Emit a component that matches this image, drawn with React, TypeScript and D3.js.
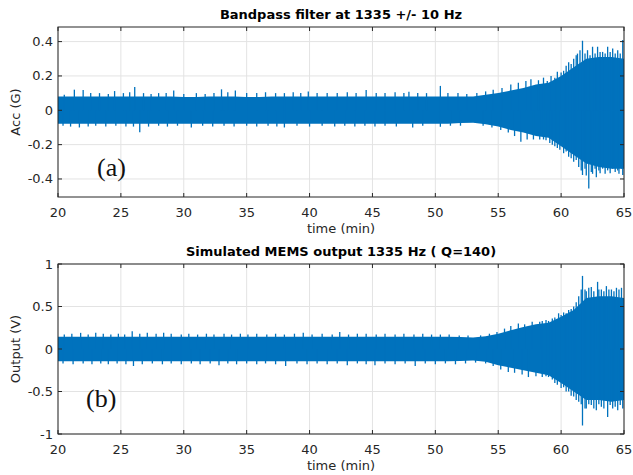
import React from "react";
import * as d3 from "d3";

// time grid for the dense core of the signal (minutes)
const coreTime = [
  20, 21, 22, 23, 24, 25, 26, 27, 28, 29, 30, 31, 32, 33, 34, 35, 36, 37, 38, 39, 40, 41, 42,
  43, 44, 45, 46, 47, 48, 49, 50, 51, 52, 53, 54, 55, 56, 57, 58, 59, 60, 61, 62, 63, 64, 65,
];

// (a) bandpass filtered acceleration, core envelope (G)
const coreUpperA = [
  0.08, 0.08, 0.08, 0.08, 0.08, 0.08, 0.08, 0.08, 0.08, 0.08, 0.078, 0.078, 0.08, 0.08, 0.08,
  0.078, 0.078, 0.08, 0.08, 0.08, 0.08, 0.08, 0.08, 0.08, 0.08, 0.08, 0.08, 0.08, 0.08, 0.08,
  0.08, 0.08, 0.08, 0.08, 0.09, 0.1, 0.115, 0.13, 0.15, 0.16, 0.2, 0.25, 0.3, 0.31, 0.31, 0.3,
];
const coreLowerA = [
  -0.078, -0.078, -0.078, -0.078, -0.078, -0.078, -0.078, -0.078, -0.078, -0.078, -0.078,
  -0.078, -0.078, -0.078, -0.078, -0.078, -0.078, -0.078, -0.078, -0.078, -0.078, -0.078,
  -0.078, -0.078, -0.078, -0.078, -0.078, -0.078, -0.078, -0.078, -0.078, -0.078, -0.074,
  -0.072, -0.082, -0.095, -0.115, -0.13, -0.15, -0.16, -0.21, -0.26, -0.31, -0.33, -0.34, -0.34,
];

// (a) individual peaks above / below the core
const peakUpTimeA = [
  20.5, 21.3, 22.0, 22.6, 23.3, 24.0, 24.5, 25.2, 25.7, 26.1, 26.8, 27.4, 28.0, 28.6, 29.2,
  30.0, 31.0, 31.7, 32.4, 33.0, 33.5, 34.1, 35.0, 35.8, 36.5, 37.3, 38.0, 38.7, 39.3, 39.9,
  40.6, 41.4, 42.2, 43.0, 43.7, 44.5, 45.3, 46.0, 46.8, 47.5, 47.9, 48.6, 49.3, 50.4, 51.0,
  51.8, 52.5, 53.3, 54.0, 54.6, 55.3, 56.0, 56.6, 57.2, 57.6, 58.2, 58.6, 58.9, 59.2, 59.5,
  59.7, 60.0, 60.2, 60.4, 60.6, 60.8, 61.0, 61.2, 61.3, 61.5, 61.7, 61.9, 62.1, 62.3, 62.5,
  62.7, 62.9, 63.1, 63.3, 63.5, 63.7, 63.9, 64.1, 64.3, 64.5, 64.7, 64.9,
];
const peakUpValA = [
  0.09, 0.12, 0.118, 0.1, 0.1, 0.095, 0.112, 0.1, 0.105, 0.135, 0.1, 0.095, 0.1, 0.1, 0.115,
  0.095, 0.1, 0.095, 0.1, 0.122, 0.105, 0.115, 0.1, 0.1, 0.105, 0.1, 0.1, 0.105, 0.1, 0.11,
  0.1, 0.1, 0.1, 0.105, 0.1, 0.118, 0.1, 0.1, 0.105, 0.1, 0.108, 0.1, 0.1, 0.142, 0.1, 0.1,
  0.095, 0.1, 0.11, 0.12, 0.13, 0.15, 0.16, 0.17, 0.18, 0.175, 0.19, 0.17, 0.2, 0.19, 0.225,
  0.22, 0.23, 0.26, 0.28, 0.27, 0.3, 0.32, 0.33, 0.35, 0.405, 0.33, 0.35, 0.32, 0.37, 0.33,
  0.37, 0.34, 0.34, 0.33, 0.37, 0.34, 0.36, 0.33, 0.35, 0.33, 0.41,
];
const peakDownTimeA = [
  20.4, 21.0, 21.7, 22.4, 23.0, 23.8, 24.6, 25.4, 26.0, 26.5, 27.2, 28.0, 28.7, 29.5, 30.6,
  31.5, 32.3, 33.2, 34.0, 35.0, 35.8, 36.7, 37.4, 38.0, 39.0, 40.0, 41.0, 42.0, 42.8, 43.6,
  44.4, 45.2, 46.0, 46.9, 48.2, 49.0, 50.4, 51.2, 52.0, 53.8, 54.5, 55.2, 55.8, 56.3, 56.8,
  57.3, 57.8, 58.3, 58.6, 58.8, 59.1, 59.3, 59.5, 59.7, 59.9, 60.2, 60.4, 60.6, 60.8, 61.0,
  61.2, 61.4, 61.6, 61.7, 61.9, 62.0, 62.2, 62.4, 62.5, 62.7, 62.8, 63.0, 63.1, 63.3, 63.5,
  63.7, 63.9, 64.1, 64.3, 64.5, 64.6, 64.8, 64.9,
];
const peakDownValA = [
  -0.09, -0.095, -0.1, -0.095, -0.09, -0.095, -0.09, -0.095, -0.095, -0.128, -0.095, -0.09,
  -0.095, -0.09, -0.1, -0.09, -0.095, -0.09, -0.095, -0.09, -0.095, -0.09, -0.095, -0.1,
  -0.09, -0.095, -0.09, -0.095, -0.09, -0.095, -0.09, -0.095, -0.09, -0.095, -0.1, -0.09,
  -0.096, -0.09, -0.09, -0.09, -0.1, -0.115, -0.13, -0.15, -0.183, -0.17, -0.17, -0.17,
  -0.17, -0.175, -0.19, -0.2, -0.21, -0.22, -0.23, -0.25, -0.24, -0.27, -0.28, -0.3, -0.29,
  -0.33, -0.35, -0.377, -0.34, -0.38, -0.455, -0.36, -0.37, -0.34, -0.39, -0.35, -0.367,
  -0.34, -0.37, -0.35, -0.367, -0.34, -0.36, -0.35, -0.37, -0.34, -0.377,
];

// (b) simulated MEMS output, core envelope (V)
const coreUpperB = [
  0.145, 0.145, 0.145, 0.145, 0.145, 0.145, 0.145, 0.145, 0.145, 0.145, 0.145, 0.145, 0.145,
  0.145, 0.145, 0.145, 0.145, 0.145, 0.145, 0.145, 0.145, 0.145, 0.145, 0.145, 0.145, 0.145,
  0.145, 0.145, 0.145, 0.145, 0.145, 0.145, 0.14, 0.135, 0.15, 0.18, 0.22, 0.26, 0.29, 0.31,
  0.38, 0.46, 0.6, 0.62, 0.62, 0.6,
];
const coreLowerB = [
  -0.145, -0.145, -0.145, -0.145, -0.145, -0.145, -0.145, -0.145, -0.145, -0.145, -0.145,
  -0.145, -0.145, -0.145, -0.145, -0.145, -0.145, -0.145, -0.145, -0.145, -0.145, -0.145,
  -0.145, -0.145, -0.145, -0.145, -0.145, -0.145, -0.145, -0.145, -0.145, -0.145, -0.14,
  -0.135, -0.15, -0.19, -0.22, -0.25, -0.28, -0.31, -0.4, -0.5, -0.6, -0.6, -0.62, -0.6,
];

const peakUpTimeB = [
  20.5, 21.1, 21.8, 22.4, 23.0, 23.6, 24.2, 24.8, 25.3, 25.9, 26.5, 27.1, 27.8, 28.4, 29.0,
  29.8, 30.4, 31.1, 31.8, 32.4, 33.2, 33.8, 34.5, 35.1, 35.8, 36.6, 37.3, 38.0, 38.8, 39.5,
  40.2, 41.0, 41.8, 42.4, 43.1, 43.8, 44.5, 45.3, 46.0, 46.8, 47.5, 48.3, 49.0, 49.7, 50.4,
  51.1, 51.9, 52.6, 53.6, 54.3, 54.9, 55.5, 56.0, 56.6, 57.1, 57.7, 58.3, 58.5, 58.8, 59.0,
  59.3, 59.5, 59.8, 60.0, 60.2, 60.4, 60.6, 60.8, 61.0, 61.2, 61.4, 61.6, 61.7, 61.9, 62.0,
  62.2, 62.4, 62.6, 62.9, 63.0, 63.2, 63.4, 63.6, 63.8, 64.0, 64.2, 64.4, 64.6, 64.8, 64.95,
];
const peakUpValB = [
  0.17, 0.18, 0.19, 0.17, 0.19, 0.18, 0.17, 0.18, 0.17, 0.21, 0.18, 0.19, 0.18, 0.19, 0.18,
  0.17, 0.18, 0.17, 0.18, 0.17, 0.18, 0.17, 0.18, 0.17, 0.18, 0.17, 0.18, 0.17, 0.18, 0.19,
  0.17, 0.18, 0.17, 0.2, 0.17, 0.18, 0.18, 0.17, 0.18, 0.17, 0.18, 0.17, 0.18, 0.17, 0.17,
  0.17, 0.16, 0.16, 0.16, 0.18, 0.2, 0.24, 0.27, 0.3, 0.29, 0.32, 0.32, 0.33, 0.34, 0.33,
  0.36, 0.37, 0.42, 0.4, 0.43, 0.42, 0.46, 0.47, 0.5, 0.55, 0.62, 0.7, 0.86, 0.7, 0.68, 0.72,
  0.73, 0.68, 0.79, 0.7, 0.7, 0.68, 0.74, 0.7, 0.7, 0.68, 0.72, 0.7, 0.72, 0.6,
];
const peakDownTimeB = [
  20.4, 21.2, 22.0, 22.7, 23.4, 24.0, 24.7, 25.4, 26.0, 26.7, 27.5, 28.3, 29.0, 29.8, 30.6,
  31.3, 32.1, 32.8, 33.5, 34.2, 35.0, 35.8, 36.5, 37.3, 38.1, 39.0, 39.8, 40.6, 41.4, 42.2,
  43.0, 43.8, 44.5, 45.2, 46.0, 46.8, 47.6, 48.4, 49.2, 50.0, 50.8, 51.6, 52.4, 53.2, 54.0,
  54.6, 55.2, 55.8, 56.3, 56.9, 57.4, 58.0, 58.5, 58.8, 59.0, 59.3, 59.5, 59.7, 60.0, 60.2,
  60.4, 60.6, 60.8, 61.0, 61.2, 61.4, 61.6, 61.7, 61.9, 62.0, 62.2, 62.4, 62.6, 62.8, 63.0,
  63.2, 63.4, 63.7, 63.9, 64.1, 64.3, 64.5, 64.7, 64.9,
];
const peakDownValB = [
  -0.17, -0.18, -0.17, -0.18, -0.17, -0.18, -0.17, -0.18, -0.2, -0.18, -0.17, -0.18, -0.17,
  -0.18, -0.17, -0.18, -0.17, -0.19, -0.17, -0.18, -0.17, -0.18, -0.17, -0.18, -0.2, -0.17,
  -0.18, -0.17, -0.18, -0.17, -0.19, -0.17, -0.18, -0.19, -0.17, -0.18, -0.17, -0.2, -0.17,
  -0.18, -0.17, -0.18, -0.17, -0.16, -0.17, -0.2, -0.24, -0.27, -0.28, -0.3, -0.33, -0.32,
  -0.33, -0.32, -0.33, -0.36, -0.4, -0.42, -0.46, -0.45, -0.5, -0.5, -0.55, -0.56, -0.6,
  -0.62, -0.65, -0.9, -0.7, -0.7, -0.65, -0.66, -0.7, -0.72, -0.65, -0.68, -0.7, -0.8, -0.66,
  -0.7, -0.68, -0.72, -0.66, -0.7,
];

const xTicks = [20, 25, 30, 35, 40, 45, 50, 55, 60, 65];
const yTicksA = [-0.4, -0.2, 0, 0.2, 0.4];
const yTicksB = [-1, -0.5, 0, 0.5, 1];

const BLUE = "#0072BD";
const AXIS = "#262626";
const GRID = "#e3e3e3";
const FONT = "'DejaVu Sans', Verdana, sans-serif";

type PanelProps = {
  top: number;
  bottom: number;
  yDomain: [number, number];
  yTicks: number[];
  title: string;
  yLabel: string;
  tag: string;
  tagX: number;
  tagY: number;
  coreUpper: number[];
  coreLower: number[];
  upT: number[];
  upV: number[];
  downT: number[];
  downV: number[];
};

const left = 58;
const right = 624;

function Panel(p: PanelProps) {
  const x = d3.scaleLinear().domain([20, 65]).range([left, right]);
  const y = d3.scaleLinear().domain(p.yDomain).range([p.bottom, p.top]);
  const area = d3
    .area<number>()
    .x((_, i) => x(coreTime[i]))
    .y0((_, i) => y(p.coreLower[i]))
    .y1((d) => y(d));
  const tickLen = 4;
  const mid = (left + right) / 2;
  const clipId = "clip" + p.tag.replace(/\W/g, "");

  return (
    <g>
      <defs>
        <clipPath id={clipId}>
          <rect x={left} y={p.top} width={right - left} height={p.bottom - p.top} />
        </clipPath>
      </defs>
      <rect x={left} y={p.top} width={right - left} height={p.bottom - p.top} fill="#fff" />
      {/* grid */}
      {xTicks.map((t) => (
        <line key={"gx" + t} x1={x(t)} x2={x(t)} y1={p.top} y2={p.bottom} stroke={GRID} strokeWidth={1} />
      ))}
      {p.yTicks.map((t) => (
        <line key={"gy" + t} x1={left} x2={right} y1={y(t)} y2={y(t)} stroke={GRID} strokeWidth={1} />
      ))}
      {/* signal */}
      <g clipPath={`url(#${clipId})`}>
        <path d={area(p.coreUpper) || ""} fill={BLUE} />
        {p.upT.map((t, i) => (
          <line key={"u" + i} x1={x(t)} x2={x(t)} y1={y(0)} y2={y(p.upV[i])} stroke={BLUE} strokeWidth={1.3} />
        ))}
        {p.downT.map((t, i) => (
          <line key={"d" + i} x1={x(t)} x2={x(t)} y1={y(0)} y2={y(p.downV[i])} stroke={BLUE} strokeWidth={1.3} />
        ))}
      </g>
      {/* box and ticks */}
      <rect x={left} y={p.top} width={right - left} height={p.bottom - p.top} fill="none" stroke={AXIS} strokeWidth={1} />
      {xTicks.map((t) => (
        <g key={"tx" + t}>
          <line x1={x(t)} x2={x(t)} y1={p.bottom} y2={p.bottom - tickLen} stroke={AXIS} />
          <line x1={x(t)} x2={x(t)} y1={p.top} y2={p.top + tickLen} stroke={AXIS} />
          <text x={x(t)} y={p.bottom + 20} textAnchor="middle" fontSize={13} fill={AXIS} fontFamily={FONT}>
            {t}
          </text>
        </g>
      ))}
      {p.yTicks.map((t) => (
        <g key={"ty" + t}>
          <line x1={left} x2={left + tickLen} y1={y(t)} y2={y(t)} stroke={AXIS} />
          <line x1={right} x2={right - tickLen} y1={y(t)} y2={y(t)} stroke={AXIS} />
          <text x={left - 5} y={y(t) + 4.5} textAnchor="end" fontSize={13} fill={AXIS} fontFamily={FONT}>
            {t}
          </text>
        </g>
      ))}
      <text x={mid} y={p.top - 8} textAnchor="middle" fontSize={13} fontWeight="bold" fill="#000" fontFamily={FONT}>
        {p.title}
      </text>
      <text x={mid} y={p.bottom + 36} textAnchor="middle" fontSize={13} fill={AXIS} fontFamily={FONT}>
        time (min)
      </text>
      <text
        transform={`translate(20,${(p.top + p.bottom) / 2}) rotate(-90)`}
        textAnchor="middle"
        fontSize={13}
        fill={AXIS}
        fontFamily={FONT}
      >
        {p.yLabel}
      </text>
      <text x={p.tagX} y={p.tagY} fontSize={26} fill="#111" fontFamily="'Liberation Serif', 'Times New Roman', serif">
        {p.tag}
      </text>
    </g>
  );
}

export default function App() {
  return (
    <svg
      width={633}
      height={475}
      style={{ position: "absolute", left: 0, top: 0, background: "#fff" }}
    >
      <rect width={633} height={475} fill="#fff" />
      <Panel
        top={27}
        bottom={197}
        yDomain={[-0.505, 0.485]}
        yTicks={yTicksA}
        title="Bandpass filter at 1335 +/- 10 Hz"
        yLabel="Acc (G)"
        tag="(a)"
        tagX={97}
        tagY={176}
        coreUpper={coreUpperA}
        coreLower={coreLowerA}
        upT={peakUpTimeA}
        upV={peakUpValA}
        downT={peakDownTimeA}
        downV={peakDownValA}
      />
      <Panel
        top={264}
        bottom={434}
        yDomain={[-1, 1]}
        yTicks={yTicksB}
        title="Simulated MEMS output 1335 Hz ( Q=140)"
        yLabel="Output (V)"
        tag="(b)"
        tagX={86}
        tagY={407}
        coreUpper={coreUpperB}
        coreLower={coreLowerB}
        upT={peakUpTimeB}
        upV={peakUpValB}
        downT={peakDownTimeB}
        downV={peakDownValB}
      />
    </svg>
  );
}
